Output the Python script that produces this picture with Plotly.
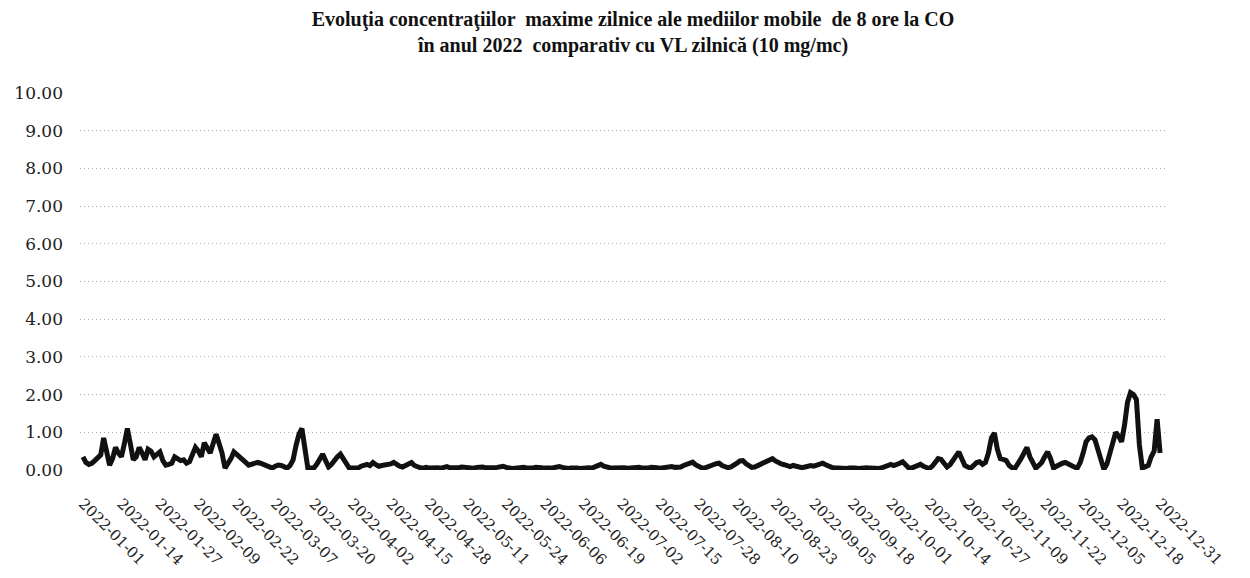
import pandas as pd
import plotly.graph_objects as go

# Daily maximum 8-hour running mean CO concentration (mg/m3), 2022
jan = [0.35, 0.20, 0.15, 0.18, 0.25, 0.32, 0.40, 0.85, 0.48, 0.13,
       0.30, 0.60, 0.45, 0.35, 0.70, 1.10, 0.70, 0.27, 0.35, 0.60,
       0.45, 0.27, 0.55, 0.50, 0.35, 0.42, 0.48, 0.25, 0.13, 0.15, 0.18]
feb = [0.35, 0.30, 0.25, 0.27, 0.18, 0.22, 0.40, 0.60, 0.50, 0.35,
       0.72, 0.55, 0.45, 0.70, 0.95, 0.70, 0.45, 0.05, 0.15, 0.30,
       0.48, 0.40, 0.32, 0.27, 0.20, 0.13, 0.15, 0.18]
mar = [0.20, 0.18, 0.15, 0.12, 0.08, 0.05, 0.10, 0.13, 0.12, 0.08,
       0.05, 0.12, 0.27, 0.65, 0.95, 1.10, 0.45, 0.05, 0.05, 0.05,
       0.15, 0.27, 0.42, 0.25, 0.08, 0.15, 0.27, 0.35, 0.42, 0.30, 0.12]
apr = [0.05, 0.05, 0.06, 0.05, 0.10, 0.13, 0.15, 0.12, 0.20, 0.14,
       0.10, 0.12, 0.13, 0.13, 0.16, 0.20, 0.14, 0.10, 0.08, 0.12,
       0.15, 0.20, 0.12, 0.08, 0.06, 0.05, 0.07, 0.05, 0.06, 0.08]
may = [0.06, 0.05, 0.07, 0.09, 0.06, 0.05, 0.04, 0.06, 0.08, 0.07,
       0.05, 0.04, 0.05, 0.07, 0.09, 0.08, 0.06, 0.05, 0.04, 0.06,
       0.07, 0.09, 0.10, 0.07, 0.05, 0.04, 0.05, 0.06, 0.08, 0.07, 0.05]
jun = [0.04, 0.05, 0.07, 0.08, 0.06, 0.05, 0.04, 0.05, 0.06, 0.08,
       0.09, 0.07, 0.05, 0.04, 0.05, 0.06, 0.05, 0.04, 0.05, 0.07,
       0.06, 0.05, 0.08, 0.12, 0.15, 0.10, 0.07, 0.06, 0.05, 0.06]
jul = [0.07, 0.08, 0.06, 0.05, 0.06, 0.08, 0.09, 0.07, 0.05, 0.04,
       0.05, 0.07, 0.08, 0.06, 0.05, 0.06, 0.08, 0.10, 0.09, 0.07,
       0.06, 0.08, 0.12, 0.15, 0.20, 0.21, 0.14, 0.08, 0.06, 0.05, 0.07]
aug = [0.10, 0.14, 0.17, 0.18, 0.12, 0.08, 0.06, 0.08, 0.12, 0.18,
       0.24, 0.25, 0.17, 0.10, 0.07, 0.08, 0.12, 0.16, 0.20, 0.24,
       0.28, 0.30, 0.24, 0.18, 0.16, 0.14, 0.10, 0.09, 0.12, 0.10, 0.07]
sep = [0.06, 0.08, 0.10, 0.12, 0.10, 0.12, 0.16, 0.18, 0.14, 0.10,
       0.07, 0.06, 0.05, 0.06, 0.05, 0.04, 0.05, 0.06, 0.05, 0.04,
       0.05, 0.07, 0.06, 0.05, 0.04, 0.05, 0.04, 0.06, 0.08, 0.12]
oct_ = [0.15, 0.12, 0.14, 0.18, 0.22, 0.15, 0.06, 0.05, 0.08, 0.12,
        0.15, 0.10, 0.06, 0.04, 0.10, 0.22, 0.30, 0.28, 0.15, 0.08,
        0.14, 0.25, 0.40, 0.48, 0.30, 0.12, 0.08, 0.05, 0.12, 0.20, 0.22]
nov = [0.15, 0.20, 0.45, 0.85, 0.98, 0.55, 0.30, 0.28, 0.25, 0.12,
       0.06, 0.05, 0.15, 0.30, 0.45, 0.60, 0.35, 0.20, 0.05, 0.12,
       0.20, 0.35, 0.48, 0.30, 0.05, 0.10, 0.15, 0.18, 0.20, 0.15]
dec = [0.10, 0.08, 0.05, 0.20, 0.45, 0.75, 0.85, 0.88, 0.80, 0.55,
       0.30, 0.02, 0.15, 0.40, 0.70, 1.00, 0.90, 0.75, 1.20, 1.80,
       2.05, 2.00, 1.87, 0.67, 0.05, 0.08, 0.12, 0.35, 0.50, 1.35, 0.45]

values = jan + feb + mar + apr + may + jun + jul + aug + sep + oct_ + nov + dec
dates = pd.date_range("2022-01-01", "2022-12-31", freq="D")

tick_dates = pd.date_range("2022-01-01", "2022-12-31", freq="13D")
tick_labels = [d.strftime("%Y-%m-%d") for d in tick_dates]
y_ticks = list(range(0, 11))
y_labels = [f"{v:.2f}" for v in y_ticks]

title_text = ("<b>Evoluţia concentraţiilor  maxime zilnice ale mediilor mobile  de 8 ore la CO"
              "<br>în anul 2022  comparativ cu VL zilnică (10 mg/mc)</b>")

fig = go.Figure()
fig.add_trace(go.Scatter(
    x=dates, y=values, mode="lines",
    line=dict(color="#111111", width=5),
    showlegend=False,
))

fig.update_layout(
    width=1250, height=578,
    paper_bgcolor="white", plot_bgcolor="white",
    margin=dict(l=72, r=92, t=85, b=116, autoexpand=False),
    title=dict(text=title_text, x=0.5, xanchor="center",
               yref="container", y=0.969, yanchor="middle",
               font=dict(family="Liberation Serif", size=20, color="#111111")),
    font=dict(family="DejaVu Serif", color="#222222"),
)
fig.update_xaxes(
    range=["2021-12-31", "2023-01-02"],
    tickmode="array", tickvals=tick_dates, ticktext=tick_labels,
    tickangle=45, tickfont=dict(family="DejaVu Serif", size=15, color="#222222"),
    showgrid=False, zeroline=False, showline=False, ticks="",
    ticklabelstandoff=21, automargin=False,
)
fig.update_yaxes(
    range=[0, 10],
    tickmode="array", tickvals=y_ticks, ticktext=y_labels,
    tickfont=dict(family="DejaVu Serif", size=17, color="#222222"),
    showgrid=True, gridcolor="#a8a8a8", griddash="1px,3px", gridwidth=1,
    zeroline=False, showline=False, ticks="",
    ticklabelstandoff=16, automargin=False,
)

fig.write_html("out.html")
